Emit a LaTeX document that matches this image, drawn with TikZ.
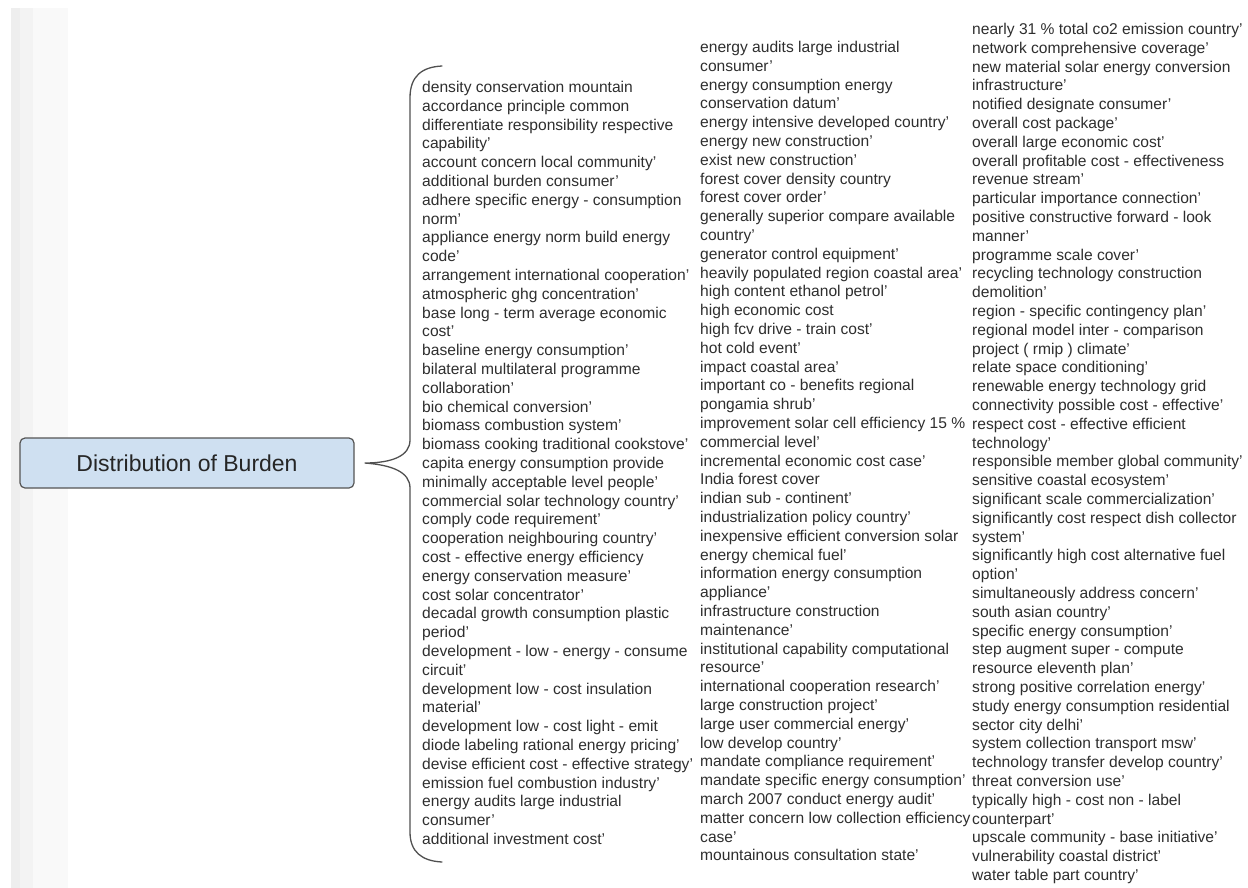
\documentclass[tikz,border=0pt]{standalone}
\usepackage{fontspec}
\setmainfont{Liberation Sans}
\usepackage{xcolor}
\usetikzlibrary{positioning, calc}

\definecolor{rootfill}{HTML}{CFE0F1}
\definecolor{rootdraw}{HTML}{555555}
\definecolor{leaftext}{HTML}{2E2E2E}
\definecolor{bracegray}{HTML}{505050}
\definecolor{stripA}{HTML}{EEEEEE}
\definecolor{stripB}{HTML}{F3F3F3}
\definecolor{stripC}{HTML}{F9F9F9}

\begin{document}
\begin{tikzpicture}[
    x=1pt, y=-1pt,
    rootbox/.style={rectangle, rounded corners=5pt, draw=rootdraw, fill=rootfill, line width=1.2pt, minimum width=334pt, minimum height=50pt, font=\fontsize{23}{27}\selectfont, text=black!85},
    leaves/.style={anchor=north west, inner sep=0pt, align=left, text=leaftext, font=\fontsize{15.6}{18.8}\selectfont},
    brace/.style={draw=bracegray, line width=1.3pt, line cap=round}
]
\useasboundingbox (0,0) rectangle (1248,888);

% grey strip (left edge)
\fill[stripA] (11,8) rectangle (20,888);
\fill[stripB] (20,8) rectangle (33,888);
\fill[stripC] (33,8) rectangle (68,888);

% root
\node[rootbox] (burden) at (187,463) {Distribution of Burden};

% brace
\coordinate (tip) at ([xshift=10pt]burden.east);
\coordinate (btop) at (442,66);
\coordinate (bbot) at (442,862);
\draw[brace] (btop) .. controls (422,67) and (410,76) .. (410,98) -- (410,440)
    .. controls (410,456) and (392,463) .. (tip)
    .. controls (392,465) and (410,472) .. (410,488) -- (410,832)
    .. controls (410,852) and (422,861) .. (bbot);

% leaf columns
\node[leaves] (col1) at (422,81) {density conservation mountain\\
accordance principle common\\
differentiate responsibility respective\\
capability'\\
account concern local community'\\
additional burden consumer'\\
adhere specific energy - consumption\\
norm'\\
appliance energy norm build energy\\
code'\\
arrangement international cooperation'\\
atmospheric ghg concentration'\\
base long - term average economic\\
cost'\\
baseline energy consumption'\\
bilateral multilateral programme\\
collaboration'\\
bio chemical conversion'\\
biomass combustion system'\\
biomass cooking traditional cookstove'\\
capita energy consumption provide\\
minimally acceptable level people'\\
commercial solar technology country'\\
comply code requirement'\\
cooperation neighbouring country'\\
cost - effective energy efficiency\\
energy conservation measure'\\
cost solar concentrator'\\
decadal growth consumption plastic\\
period'\\
development - low - energy - consume\\
circuit'\\
development low - cost insulation\\
material'\\
development low - cost light - emit\\
diode labeling rational energy pricing'\\
devise efficient cost - effective strategy'\\
emission fuel combustion industry'\\
energy audits large industrial\\
consumer'\\
additional investment cost'};

\node[leaves] (col2) at (700,41) {energy audits large industrial\\
consumer'\\
energy consumption energy\\
conservation datum'\\
energy intensive developed country'\\
energy new construction'\\
exist new construction'\\
forest cover density country\\
forest cover order'\\
generally superior compare available\\
country'\\
generator control equipment'\\
heavily populated region coastal area'\\
high content ethanol petrol'\\
high economic cost\\
high fcv drive - train cost'\\
hot cold event'\\
impact coastal area'\\
important co - benefits regional\\
pongamia shrub'\\
improvement solar cell efficiency 15 \%\\
commercial level'\\
incremental economic cost case'\\
India forest cover\\
indian sub - continent'\\
industrialization policy country'\\
inexpensive efficient conversion solar\\
energy chemical fuel'\\
information energy consumption\\
appliance'\\
infrastructure construction\\
maintenance'\\
institutional capability computational\\
resource'\\
international cooperation research'\\
large construction project'\\
large user commercial energy'\\
low develop country'\\
mandate compliance requirement'\\
mandate specific energy consumption'\\
march 2007 conduct energy audit'\\
matter concern low collection efficiency\\
case'\\
mountainous consultation state'};

\node[leaves] (col3) at (972,23) {nearly 31 \% total co2 emission country'\\
network comprehensive coverage'\\
new material solar energy conversion\\
infrastructure'\\
notified designate consumer'\\
overall cost package'\\
overall large economic cost'\\
overall profitable cost - effectiveness\\
revenue stream'\\
particular importance connection'\\
positive constructive forward - look\\
manner'\\
programme scale cover'\\
recycling technology construction\\
demolition'\\
region - specific contingency plan'\\
regional model inter - comparison\\
project ( rmip ) climate'\\
relate space conditioning'\\
renewable energy technology grid\\
connectivity possible cost - effective'\\
respect cost - effective efficient\\
technology'\\
responsible member global community'\\
sensitive coastal ecosystem'\\
significant scale commercialization'\\
significantly cost respect dish collector\\
system'\\
significantly high cost alternative fuel\\
option'\\
simultaneously address concern'\\
south asian country'\\
specific energy consumption'\\
step augment super - compute\\
resource eleventh plan'\\
strong positive correlation energy'\\
study energy consumption residential\\
sector city delhi'\\
system collection transport msw'\\
technology transfer develop country'\\
threat conversion use'\\
typically high - cost non - label\\
counterpart'\\
upscale community - base initiative'\\
vulnerability coastal district'\\
water table part country'};

\end{tikzpicture}
\end{document}
